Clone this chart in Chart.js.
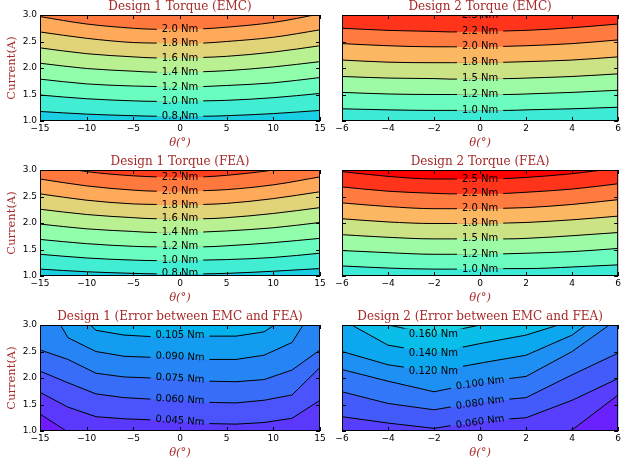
<!DOCTYPE html>
<html>
<head>
<meta charset="utf-8">
<script src="https://cdn.jsdelivr.net/npm/chart.js@4.4.1/dist/chart.umd.min.js"></script>
<style>
  html, body { margin: 0; padding: 0; background: #fff; overflow: hidden; }
  body { width: 623px; height: 466px; position: relative; }
  canvas { position: absolute; }
</style>
</head>
<body>
<canvas id="c1" width="330" height="160" style="left:0;top:0"></canvas>
<canvas id="c2" width="321" height="160" style="left:302px;top:0"></canvas>
<canvas id="c3" width="330" height="160" style="left:0;top:155px"></canvas>
<canvas id="c4" width="321" height="160" style="left:302px;top:155px"></canvas>
<canvas id="c5" width="330" height="160" style="left:0;top:310px"></canvas>
<canvas id="c6" width="321" height="160" style="left:302px;top:310px"></canvas>
<script>
// theta grids (deg)
var theta1 = [-15, -10, -5, -2.5, 0, 2.5, 5, 10, 15];
var theta2 = [-6, -4, -2, -1.2, 0, 1.2, 2, 4, 6];
var thetaErr1 = [-15, -12, -9, -6, -3, 0, 3, 6, 9, 12, 15];
var thetaErr2 = [-6, -4, -2, 0, 2, 4, 6];

// contour levels (bottom to top)
var levels1 = ['0.8 Nm', '1.0 Nm', '1.2 Nm', '1.4 Nm', '1.6 Nm', '1.8 Nm', '2.0 Nm', '2.2 Nm'];
var levels2 = ['1.0 Nm', '1.2 Nm', '1.5 Nm', '1.8 Nm', '2.0 Nm', '2.2 Nm', '2.5 Nm'];

// current (A) of each contour line along theta
var d1Emc = [
  [1.18, 1.13, 1.10, 1.09, 1.09, 1.09, 1.10, 1.14, 1.20],
  [1.49, 1.42, 1.38, 1.37, 1.37, 1.38, 1.39, 1.44, 1.52],
  [1.79, 1.70, 1.66, 1.65, 1.64, 1.65, 1.67, 1.72, 1.82],
  [2.09, 1.99, 1.94, 1.92, 1.92, 1.93, 1.95, 2.02, 2.12],
  [2.38, 2.27, 2.21, 2.19, 2.19, 2.20, 2.22, 2.30, 2.42],
  [2.68, 2.56, 2.48, 2.47, 2.46, 2.47, 2.50, 2.58, 2.72],
  [2.97, 2.83, 2.75, 2.73, 2.73, 2.74, 2.77, 2.86, 3.02]
];
var d1Fea = [
  [1.13, 1.08, 1.05, 1.04, 1.04, 1.04, 1.05, 1.09, 1.14],
  [1.41, 1.34, 1.30, 1.29, 1.29, 1.30, 1.31, 1.35, 1.43],
  [1.69, 1.61, 1.56, 1.55, 1.55, 1.55, 1.57, 1.63, 1.71],
  [1.98, 1.89, 1.84, 1.82, 1.82, 1.83, 1.85, 1.91, 2.01],
  [2.26, 2.16, 2.10, 2.08, 2.08, 2.08, 2.10, 2.18, 2.29],
  [2.55, 2.43, 2.36, 2.35, 2.34, 2.35, 2.37, 2.46, 2.59],
  [2.83, 2.70, 2.62, 2.60, 2.60, 2.61, 2.63, 2.72, 2.87],
  [3.12, 2.97, 2.89, 2.87, 2.86, 2.87, 2.90, 3.00, 3.16]
];
var d2Emc = [
  [1.23, 1.21, 1.20, 1.20, 1.20, 1.20, 1.21, 1.23, 1.26],
  [1.54, 1.51, 1.50, 1.50, 1.50, 1.50, 1.51, 1.54, 1.58],
  [1.84, 1.81, 1.80, 1.79, 1.80, 1.80, 1.81, 1.84, 1.89],
  [2.15, 2.11, 2.10, 2.10, 2.10, 2.11, 2.12, 2.15, 2.21],
  [2.46, 2.42, 2.40, 2.40, 2.40, 2.41, 2.42, 2.46, 2.53],
  [2.75, 2.71, 2.69, 2.68, 2.69, 2.70, 2.71, 2.76, 2.83],
  [3.08, 3.02, 3.00, 3.00, 3.00, 3.01, 3.03, 3.08, 3.16]
];
var d2Fea = [
  [1.19, 1.15, 1.13, 1.13, 1.13, 1.14, 1.14, 1.17, 1.21],
  [1.48, 1.44, 1.41, 1.41, 1.41, 1.42, 1.43, 1.46, 1.52],
  [1.78, 1.73, 1.70, 1.70, 1.70, 1.70, 1.71, 1.76, 1.82],
  [2.08, 2.02, 1.99, 1.99, 1.99, 2.00, 2.01, 2.06, 2.13],
  [2.38, 2.31, 2.27, 2.27, 2.27, 2.28, 2.29, 2.35, 2.44],
  [2.68, 2.60, 2.56, 2.55, 2.55, 2.56, 2.58, 2.64, 2.74],
  [2.97, 2.88, 2.83, 2.83, 2.83, 2.84, 2.86, 2.93, 3.04]
];
// error contours: 0.030 .. 0.105 Nm
var err1 = [
  [1.32, 0.98, 0.85, 0.80, 0.78, 0.76, 0.72, 0.71, 0.73, 0.80, 0.95],
  [1.73, 1.45, 1.27, 1.23, 1.21, 1.19, 1.14, 1.13, 1.16, 1.24, 1.58],
  [2.13, 1.91, 1.70, 1.63, 1.60, 1.59, 1.54, 1.53, 1.58, 1.68, 2.20],
  [2.53, 2.35, 2.09, 2.02, 2.00, 1.99, 1.94, 1.93, 1.97, 2.15, 2.53],
  [3.66, 2.76, 2.50, 2.41, 2.39, 2.40, 2.35, 2.35, 2.43, 2.67, 3.50],
  [3.90, 3.40, 2.90, 2.81, 2.78, 2.80, 2.79, 2.79, 2.87, 3.22, 3.60]
];
// error contours: 0.040 .. 0.160 Nm
var err2 = [
  [0.50, 0.55, 0.60, 0.72, 0.85, 1.02, 1.68],
  [1.27, 1.15, 1.05, 1.19, 1.25, 1.58, 1.99],
  [1.74, 1.52, 1.40, 1.55, 1.63, 2.06, 2.47],
  [2.16, 1.94, 1.74, 1.92, 2.03, 2.50, 3.12],
  [2.50, 2.25, 2.12, 2.28, 2.43, 2.81, 3.45],
  [3.10, 2.62, 2.47, 2.65, 2.81, 3.08, 3.50],
  [3.25, 3.00, 2.82, 3.00, 3.20, 3.60, 4.00]
];
var err1Labels = [
  {x: 0, y: 1.19, text: '0.045 Nm', rot: 4},
  {x: 0, y: 1.59, text: '0.060 Nm', rot: 3},
  {x: 0, y: 1.99, text: '0.075 Nm', rot: 3},
  {x: 0, y: 2.40, text: '0.090 Nm', rot: 2},
  {x: 0, y: 2.80, text: '0.105 Nm', rot: 0}
];
var err2Labels = [
  {x: 0, y: 1.17, text: '0.060 Nm', rot: -8},
  {x: 0, y: 1.53, text: '0.080 Nm', rot: -8},
  {x: 0, y: 1.90, text: '0.100 Nm', rot: -8},
  {x: -2.03, y: 2.12, text: '0.120 Nm', rot: 0},
  {x: -2.03, y: 2.47, text: '0.140 Nm', rot: 0},
  {x: -2.03, y: 2.82, text: '0.160 Nm', rot: 0}
];

// band colours (rainbow map), bottom band first
var bands1 = ['#1acee3', '#41edd3', '#69fdc0', '#90feab', '#b8f092', '#e0d378', '#ffaa5b', '#ff783e', '#ff3d1f'];
var bands2 = ['#3dead5', '#6bfdbf', '#9cfba4', '#cce385', '#fcb763', '#ff7b3f', '#ff341a', '#ff0000'];
var bandsErr1 = ['#6e1cff', '#5c38fd', '#4a53fc', '#386df9', '#2685f5', '#149cf1', '#03b1ec'];
var bandsErr2 = ['#6b20fe', '#583efd', '#445bfb', '#3177f8', '#1e90f4', '#0ba8ef', '#09bee9', '#1cd1e2'];

var brown = '#a52a2a';
var labelFont = '10px "DejaVu Sans"';

function fmtTheta(v) { return v < 0 ? '\u2212' + (-v) : '' + v; }

function centerLabels(theta, lines, texts) {
  var k = theta.indexOf(0);
  return lines.map(function(ys, i) { return {x: 0, y: ys[k], text: texts[i], rot: 0}; });
}

function boxes(chart, cfg) {
  var xs = chart.scales.x, ys = chart.scales.y, ctx = chart.ctx;
  ctx.save();
  ctx.font = labelFont;
  var out = cfg.labels.map(function(l) {
    return {cx: xs.getPixelForValue(l.x), cy: ys.getPixelForValue(l.y),
      w: ctx.measureText(l.text).width / 2 + 5, h: 6, r: l.rot * Math.PI / 180, text: l.text};
  });
  ctx.restore();
  return out;
}

function contourPlugin(cfg) {
  return {
    id: 'contour',
    beforeDraw: function(chart) {
      var a = chart.chartArea, ctx = chart.ctx;
      ctx.save();
      ctx.fillStyle = cfg.colors[cfg.lines.length];
      ctx.fillRect(a.left, a.top, a.right - a.left, a.bottom - a.top);
      ctx.restore();
    },
    beforeDatasetDraw: function(chart) {
      // leave a gap in the lines under each inline label
      var a = chart.chartArea, ctx = chart.ctx;
      var bs = boxes(chart, cfg);
      ctx.save();
      ctx.beginPath();
      ctx.rect(a.left, a.top, a.right - a.left, a.bottom - a.top);
      bs.forEach(function(b) {
        var c = Math.cos(b.r), s = Math.sin(b.r);
        [[-b.w, -b.h], [b.w, -b.h], [b.w, b.h], [-b.w, b.h]].forEach(function(p, i) {
          var px = b.cx + p[0] * c - p[1] * s, py = b.cy + p[0] * s + p[1] * c;
          if (i === 0) ctx.moveTo(px, py); else ctx.lineTo(px, py);
        });
        ctx.closePath();
      });
      ctx.clip('evenodd');
    },
    afterDatasetDraw: function(chart) {
      chart.ctx.restore();
    },
    afterDatasetsDraw: function(chart) {
      var a = chart.chartArea, ctx = chart.ctx;
      ctx.save();
      ctx.beginPath();
      ctx.rect(a.left, a.top, a.right - a.left, a.bottom - a.top);
      ctx.clip();
      ctx.font = labelFont;
      ctx.fillStyle = '#000';
      ctx.textAlign = 'center';
      ctx.textBaseline = 'middle';
      boxes(chart, cfg).forEach(function(b) {
        ctx.save();
        ctx.translate(b.cx, b.cy);
        ctx.rotate(b.r);
        ctx.fillText(b.text, 0, 0);
        ctx.restore();
      });
      ctx.restore();
    },
    afterDraw: function(chart) {
      var a = chart.chartArea, ctx = chart.ctx;
      var xs = chart.scales.x, ys = chart.scales.y;
      ctx.save();
      ctx.strokeStyle = '#000';
      ctx.lineWidth = 1;
      ctx.beginPath();
      xs.ticks.forEach(function(t) {
        var px = Math.round(xs.getPixelForValue(t.value)) + 0.5;
        ctx.moveTo(px, a.bottom); ctx.lineTo(px, a.bottom - 4);
        ctx.moveTo(px, a.top); ctx.lineTo(px, a.top + 4);
      });
      ys.ticks.forEach(function(t) {
        var py = Math.round(ys.getPixelForValue(t.value)) + 0.5;
        ctx.moveTo(a.left, py); ctx.lineTo(a.left + 4, py);
        ctx.moveTo(a.right, py); ctx.lineTo(a.right - 4, py);
      });
      ctx.stroke();
      ctx.strokeRect(a.left + 0.5, a.top + 0.5, a.right - a.left - 1, a.bottom - a.top - 1);
      ctx.fillStyle = brown;
      ctx.font = '12px "DejaVu Serif"';
      ctx.textAlign = 'center';
      ctx.textBaseline = 'middle';
      ctx.fillText(cfg.title, (a.left + a.right) / 2, a.top - 8);
      ctx.restore();
    }
  };
}

function panel(id, cfg) {
  var ctx = document.getElementById(id).getContext('2d');
  var datasets = cfg.lines.map(function(ys, i) {
    return {
      data: cfg.theta.map(function(t, j) { return {x: t, y: ys[j]}; }),
      borderColor: '#000',
      borderWidth: 1,
      pointRadius: 0,
      backgroundColor: cfg.colors[i],
      fill: i === 0 ? 'start' : '-1',
      cubicInterpolationMode: cfg.smooth ? 'monotone' : 'default',
      tension: 0,
      clip: 0
    };
  });
  return new Chart(ctx, {
    type: 'line',
    data: {datasets: datasets},
    options: {
      responsive: false,
      animation: false,
      events: [],
      layout: {padding: {top: 15, right: cfg.left ? 10 : 1, bottom: 0, left: 0}},
      plugins: {
        legend: {display: false},
        tooltip: {enabled: false},
        filler: {drawTime: 'beforeDatasetsDraw'}
      },
      scales: {
        x: {
          type: 'linear',
          min: cfg.xMin, max: cfg.xMax,
          afterFit: function(s) { s.height = 39; },
          grid: {display: false, drawTicks: false},
          border: {display: false},
          ticks: {stepSize: cfg.xStep, color: '#000', padding: 2, maxRotation: 0, autoSkip: false,
            font: {family: 'DejaVu Sans', size: 9}, callback: fmtTheta},
          title: {display: true, text: '\u03b8(\u00b0)', color: brown, padding: {top: 0, bottom: 10},
            font: {family: 'DejaVu Serif', size: 11.5, style: 'italic'}}
        },
        y: {
          type: 'linear',
          min: 1, max: 3,
          afterFit: function(s) { s.width = 40; },
          grid: {display: false, drawTicks: false},
          border: {display: false},
          ticks: {display: cfg.left, stepSize: 0.5, color: '#000', padding: 3,
            font: {family: 'DejaVu Sans', size: 9}, callback: function(v) { return v.toFixed(1); }},
          title: {display: cfg.left, text: 'Current(A)', color: brown, padding: {top: 5, bottom: 0},
            font: {family: 'DejaVu Serif', size: 11.5}}
        }
      }
    },
    plugins: [contourPlugin(cfg)]
  });
}

panel('c1', {title: 'Design 1 Torque (EMC)', left: true, smooth: true, theta: theta1, xMin: -15, xMax: 15, xStep: 5,
  lines: d1Emc, colors: bands1.slice(0, 8), labels: centerLabels(theta1, d1Emc, levels1)});
panel('c2', {title: 'Design 2 Torque (EMC)', left: false, smooth: true, theta: theta2, xMin: -6, xMax: 6, xStep: 2,
  lines: d2Emc, colors: bands2, labels: centerLabels(theta2, d2Emc, levels2)});
panel('c3', {title: 'Design 1 Torque (FEA)', left: true, smooth: true, theta: theta1, xMin: -15, xMax: 15, xStep: 5,
  lines: d1Fea, colors: bands1, labels: centerLabels(theta1, d1Fea, levels1)});
panel('c4', {title: 'Design 2 Torque (FEA)', left: false, smooth: true, theta: theta2, xMin: -6, xMax: 6, xStep: 2,
  lines: d2Fea, colors: bands2, labels: centerLabels(theta2, d2Fea, levels2)});
panel('c5', {title: 'Design 1 (Error between EMC and FEA)', left: true, smooth: false, theta: thetaErr1, xMin: -15, xMax: 15, xStep: 5,
  lines: err1, colors: bandsErr1, labels: err1Labels});
panel('c6', {title: 'Design 2 (Error between EMC and FEA)', left: false, smooth: false, theta: thetaErr2, xMin: -6, xMax: 6, xStep: 2,
  lines: err2, colors: bandsErr2, labels: err2Labels});
</script>
</body>
</html>
